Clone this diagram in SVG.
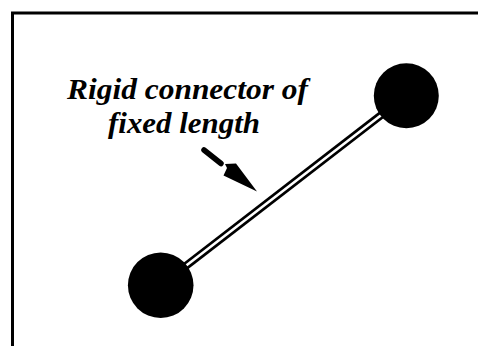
<svg xmlns="http://www.w3.org/2000/svg" width="478" height="346" viewBox="0 0 478 346">
  <style>
    .lbl { font-family: "Liberation Serif", "Times New Roman", serif; font-style: italic; font-weight: bold; font-size: 30px; fill: #000; }
    .ball { fill: #000; }
  </style>
  <rect width="478" height="346" fill="#fff"/>
  <path d="M12.5,346 V13 H478" fill="none" stroke="#000" stroke-width="3"/>
  <g id="connectors">
    <line x1="160.7" y1="285.3" x2="406.3" y2="95.7" stroke="#000" stroke-width="8"/>
    <line x1="160.7" y1="285.3" x2="406.3" y2="95.7" stroke="#fff" stroke-width="2.6"/>
    <line x1="204" y1="150" x2="221" y2="163.5" stroke="#000" stroke-width="5.5" stroke-linecap="round"/>
    <polygon points="257,191.5 223.5,175.5 227,168 225,164 236,163.5" fill="#000"/>
  </g>
  <g id="ball-bottom">
    <circle class="ball" cx="160.7" cy="285.3" r="32.8"/>
  </g>
  <g id="ball-top">
    <circle class="ball" cx="406.3" cy="95.7" r="32.5"/>
  </g>
  <g id="label">
    <text class="lbl" x="67" y="99" textLength="241" lengthAdjust="spacingAndGlyphs">Rigid connector of</text>
    <text class="lbl" x="108" y="133" textLength="152" lengthAdjust="spacingAndGlyphs">fixed length</text>
  </g>
</svg>
